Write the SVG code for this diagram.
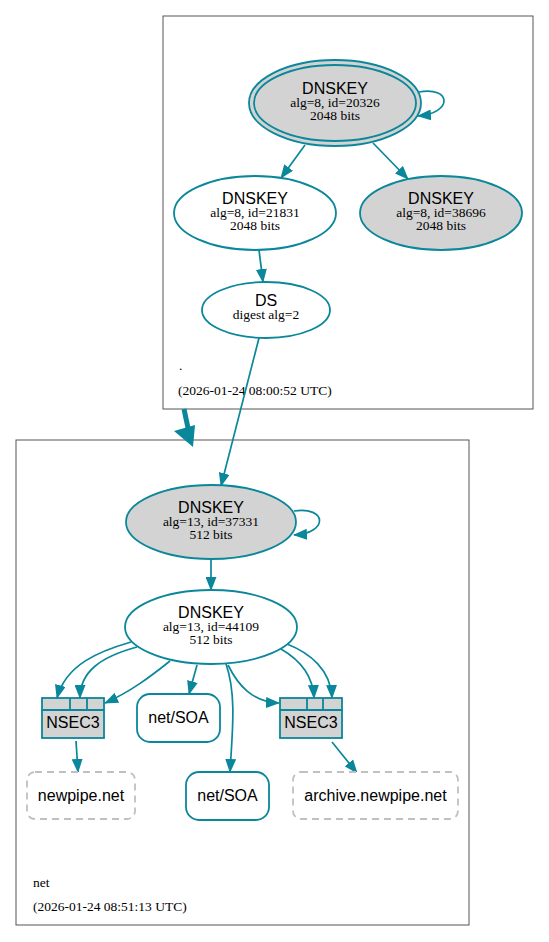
<svg xmlns="http://www.w3.org/2000/svg" width="549" height="942" viewBox="0 0 549 942">
<style>
.cl{fill:#fff;stroke:#555;stroke-width:1}
.n{stroke:#0a879a;stroke-width:1.8}
.w{fill:#fff}
.g{fill:#d3d3d3}
.e{fill:none;stroke:#0a879a;stroke-width:1.7}
.h{font-family:"Liberation Sans",Arial,sans-serif;font-size:16px;text-anchor:middle;fill:#000}
.s{font-family:"Liberation Serif","Times New Roman",serif;font-size:13.5px;text-anchor:middle;fill:#000}
.lb{font-family:"Liberation Serif","Times New Roman",serif;font-size:13.5px;fill:#000}
.d{fill:#fff;stroke:#c0c0c0;stroke-width:1.8;stroke-dasharray:7,5}
</style>
<defs>
<marker id="a" markerUnits="userSpaceOnUse" markerWidth="14" markerHeight="11" refX="13" refY="5.5" orient="auto">
<path d="M0,0 L14,5.5 L0,11 z" fill="#0a879a"/>
</marker>
</defs>
<rect width="549" height="942" fill="#fff"/>
<g id="cluster-root">
<rect class="cl" x="163" y="16" width="370" height="393"/>
<text class="lb" x="179" y="370">.</text>
<text class="lb" x="178" y="395">(2026-01-24 08:00:52 UTC)</text>
</g>
<g id="cluster-net">
<rect class="cl" x="16" y="440" width="453" height="485"/>
<text class="lb" x="33" y="887">net</text>
<text class="lb" x="33" y="911">(2026-01-24 08:51:13 UTC)</text>
</g>
<g id="connectors">
<path class="e" marker-end="url(#a)" d="M419,92 C451,86 454,113 418,116"/>
<path class="e" marker-end="url(#a)" d="M305,145 L281,178"/>
<path class="e" marker-end="url(#a)" d="M373,143 L408,179"/>
<path class="e" marker-end="url(#a)" d="M259,250 L263,282"/>
<path class="e" marker-end="url(#a)" d="M259,338 L221,486"/>
<path fill="none" stroke="#0a879a" stroke-width="5" d="M184,409 L188,428"/>
<polygon fill="#0a879a" points="174,431 195,425 193,447"/>
<path class="e" marker-end="url(#a)" d="M294,511 C327,506 329,533 294,535"/>
<path class="e" marker-end="url(#a)" d="M211,560 L211,590"/>
<path class="e" marker-end="url(#a)" d="M131,642 C100,651 66,664 57,698"/>
<path class="e" marker-end="url(#a)" d="M137,647 C100,657 80,672 80,698"/>
<path class="e" marker-end="url(#a)" d="M170,661 C150,677 130,692 105,703"/>
<path class="e" marker-end="url(#a)" d="M197,665 L189,694"/>
<path class="e" marker-end="url(#a)" d="M226,664 C237,695 232,735 230,772"/>
<path class="e" marker-end="url(#a)" d="M228,665 C238,685 252,702 279,703"/>
<path class="e" marker-end="url(#a)" d="M281,649 C300,660 313,675 314,698"/>
<path class="e" marker-end="url(#a)" d="M287,644 C310,653 331,670 332,698"/>
<path class="e" marker-end="url(#a)" d="M76,741 L78,772"/>
<path class="e" marker-end="url(#a)" d="M332,742 L357,773"/>
</g>
<g id="dnskey-20326">
<ellipse class="n g" cx="335" cy="103" rx="86" ry="43"/>
<ellipse class="n" fill="none" cx="335" cy="103" rx="81" ry="38"/>
<text class="h" x="335" y="94">DNSKEY</text>
<text class="s" x="335" y="107">alg=8, id=20326</text>
<text class="s" x="335" y="120">2048 bits</text>
</g>
<g id="dnskey-21831">
<ellipse class="n w" cx="255" cy="213" rx="81" ry="37"/>
<text class="h" x="255" y="204">DNSKEY</text>
<text class="s" x="255" y="217">alg=8, id=21831</text>
<text class="s" x="255" y="230">2048 bits</text>
</g>
<g id="dnskey-38696">
<ellipse class="n g" cx="441" cy="213" rx="81" ry="37"/>
<text class="h" x="441" y="204">DNSKEY</text>
<text class="s" x="441" y="217">alg=8, id=38696</text>
<text class="s" x="441" y="230">2048 bits</text>
</g>
<g id="ds">
<ellipse class="n w" cx="266" cy="310" rx="64" ry="28"/>
<text class="h" x="266" y="306">DS</text>
<text class="s" x="266" y="319">digest alg=2</text>
</g>
<g id="dnskey-37331">
<ellipse class="n g" cx="211" cy="522" rx="85" ry="37"/>
<text class="h" x="211" y="513">DNSKEY</text>
<text class="s" x="211" y="526">alg=13, id=37331</text>
<text class="s" x="211" y="539">512 bits</text>
</g>
<g id="dnskey-44109">
<ellipse class="n w" cx="211" cy="627" rx="86" ry="37"/>
<text class="h" x="211" y="618">DNSKEY</text>
<text class="s" x="211" y="631">alg=13, id=44109</text>
<text class="s" x="211" y="644">512 bits</text>
</g>
<g id="nsec3-1">
<rect class="n g" x="42" y="698" width="62" height="40"/>
<path class="n" fill="none" d="M42,710 H104 M70,698 V710 M87,698 V710"/>
<text class="h" x="73" y="728">NSEC3</text>
</g>
<g id="nsec3-2">
<rect class="n g" x="280" y="698" width="62" height="40"/>
<path class="n" fill="none" d="M280,710 H342 M307,698 V710 M323,698 V710"/>
<text class="h" x="311" y="728">NSEC3</text>
</g>
<g id="soa-1">
<rect class="n w" x="137" y="694" width="83" height="48" rx="13"/>
<text class="h" x="178.5" y="723">net/SOA</text>
</g>
<g id="soa-2">
<rect class="n w" x="186" y="772" width="83" height="48" rx="13"/>
<text class="h" x="227.5" y="801">net/SOA</text>
</g>
<g id="newpipe-net">
<rect class="d" x="27" y="772" width="108" height="47" rx="8"/>
<text class="h" x="81" y="801">newpipe.net</text>
</g>
<g id="archive-newpipe-net">
<rect class="d" x="293" y="772" width="165" height="47" rx="8"/>
<text class="h" x="375.5" y="801">archive.newpipe.net</text>
</g>
</svg>
